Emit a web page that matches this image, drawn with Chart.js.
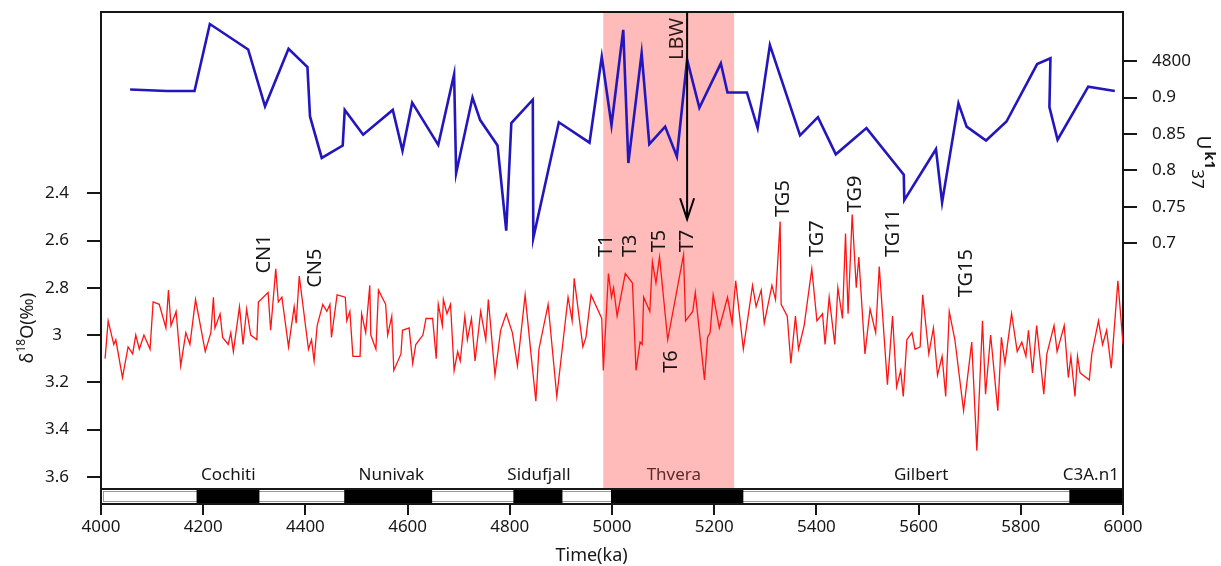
<!DOCTYPE html>
<html>
<head>
<meta charset="utf-8">
<script src="https://cdn.jsdelivr.net/npm/chart.js@4.4.1/dist/chart.umd.min.js"></script>
<style>
  html, body { margin: 0; padding: 0; background: #fff; }
  #wrap { width: 1221px; height: 566px; }
</style>
</head>
<body>
<div id="wrap"><canvas id="isoChart" width="1221" height="566"></canvas></div>
<script>
// ================= DATA =================
// U^k'37 record (right axis)
const BLUE_KA = [4057,4129,4183,4213,4288,4321,4367,4404,4409,4432,4473,4477,4513,4571,4590,4609,4660,4691,4695,4727,
  4742,4776,4793,4803,4845,4846,4896,4956,4980,4999,5022,5032,5058,5073,5104,5127,5147,5171,5213,5226,
  5264,5285,5309,5368,5403,5438,5498,5571,5572,5634,5646,5678,5694,5732,5772,5832,5858,5856,5872,5932,5984];
const BLUE_UK = [0.911,0.909,0.909,1.001,0.966,0.888,0.967,0.942,0.874,0.817,0.834,0.883,0.849,0.883,0.827,0.893,0.835,0.932,0.796,0.900,
  0.869,0.834,0.717,0.865,0.897,0.707,0.866,0.838,0.956,0.862,0.993,0.810,0.961,0.836,0.860,0.819,0.952,0.886,0.947,0.907,
  0.907,0.858,0.972,0.848,0.873,0.822,0.858,0.794,0.759,0.829,0.756,0.892,0.860,0.841,0.867,0.946,0.954,0.887,0.842,0.915,0.909];

// benthic d18O record (left axis, reversed)
const RED_KA = [
  4008,4014,4025,4029,4042,4053,4062,4068,4075,4084,
  4096,4102,4114,4127,4132,4137,4147,4156,4166,4174,
  4185,4204,4215,4220,4223,4233,4238,4249,4254,4259,
  4271,4278,4285,4293,4305,4308,4327,4332,4342,4347,
  4354,4367,4378,4382,4388,4406,4412,4417,4423,4434,
  4442,4448,4451,4462,4478,4481,4487,4493,4507,4510,
  4518,4526,4528,4538,4543,4557,4561,4569,4573,4587,
  4590,4603,4610,4616,4630,4636,4649,4656,4660,4668,
  4670,4677,4684,4691,4698,4703,4712,4717,4725,4732,
  4743,4753,4758,4771,4782,4793,4805,4815,4830,4841,
  4851,4857,4875,4892,4914,4922,4926,4943,4949,4959,
  4980,4983,4993,4999,5003,5010,5026,5040,5047,5055,
  5059,5062,5074,5079,5086,5093,5109,5140,5144,5158,
  5163,5181,5187,5192,5198,5210,5226,5235,5242,5257,
  5275,5282,5292,5298,5313,5320,5329,5331,5343,5350,
  5359,5365,5376,5391,5401,5412,5417,5425,5436,5442,
  5451,5457,5462,5470,5478,5483,5495,5505,5516,5523,
  5539,5549,5557,5565,5570,5577,5587,5593,5603,5608,
  5620,5629,5637,5646,5653,5660,5671,5688,5704,5714,
  5725,5731,5741,5755,5762,5769,5782,5793,5802,5810,
  5815,5823,5831,5845,5851,5865,5871,5885,5893,5898,
  5906,5911,5916,5934,5939,5952,5960,5968,5977,5990,
  6000];
const RED_D18O = [
  3.10,2.94,3.04,3.02,3.18,3.05,3.08,3.00,3.06,3.00,
  3.06,2.86,2.87,2.97,2.81,2.96,2.90,3.13,2.99,3.04,
  2.85,3.07,2.99,2.84,2.97,2.91,3.01,3.04,2.99,3.07,
  2.88,3.04,2.89,3.00,3.02,2.86,2.82,2.98,2.72,2.86,
  2.84,3.05,2.88,2.95,2.75,3.06,3.02,3.11,2.96,2.87,
  2.90,2.87,3.01,2.83,2.84,2.94,2.90,3.09,3.09,2.91,
  2.99,2.79,3.00,3.06,2.81,2.87,3.00,2.92,3.15,3.08,
  2.98,2.97,3.12,3.04,3.00,2.93,2.93,3.10,2.87,2.96,
  2.85,2.91,2.87,3.15,3.07,3.11,2.92,3.02,2.93,3.11,
  2.90,3.02,2.85,3.17,2.98,2.91,2.99,3.13,2.83,3.07,
  3.28,3.06,2.87,3.26,2.84,2.94,2.76,3.05,3.01,2.83,
  2.93,3.15,2.74,2.84,2.80,2.92,2.74,2.78,3.15,3.03,
  3.04,2.84,2.90,2.69,2.78,2.67,3.02,2.66,2.94,2.90,
  2.82,3.19,3.01,2.99,2.83,2.97,2.84,2.95,2.77,3.06,
  2.79,2.88,2.81,2.95,2.79,2.85,2.52,2.87,2.92,3.12,
  2.92,3.06,2.96,2.72,2.94,2.91,3.04,2.84,3.04,2.80,
  2.93,2.57,2.91,2.49,2.80,2.67,3.08,2.89,2.99,2.71,
  3.21,2.92,3.22,3.15,3.26,3.02,2.99,3.06,3.05,2.83,
  3.08,2.97,3.17,3.09,3.26,2.90,3.02,3.32,3.03,3.49,
  2.94,3.25,3.00,3.32,3.01,3.12,2.91,3.07,3.03,3.09,
  2.98,3.16,2.96,3.25,3.08,2.96,3.07,2.96,3.18,3.09,
  3.26,3.09,3.16,3.19,3.08,2.94,3.04,2.98,3.14,2.77,
  3.04];

// tick values
const X_TICK_STEP = 200;
const LEFT_TICKS = [2.4, 2.6, 2.8, 3.0, 3.2, 3.4, 3.6];
const RIGHT_TICKS = [0.7, 0.75, 0.8, 0.85, 0.9, 0.95];
const RIGHT_TICK_TEXT = ['0.7', '0.75', '0.8', '0.85', '0.9', '4800'];

// polarity chrons (normal = black)
const NORMAL_START = [4187, 4476, 4807, 4998, 5895];
const NORMAL_END = [4310, 4648, 4903, 5257, 6000];
const CHRON_NAMES = ['Cochiti', 'Nunivak', 'Sidufjall', 'Thvera', 'Gilbert', 'C3A.n1'];
const CHRON_KA = [4249, 4568, 4857, 5121, 5605, 5937];

// Thvera interval and LBW event
const THVERA_BAND = [4983, 5239];
const LBW_KA = 5147;
const LBW_TIP_D18O = 2.51;

// glacial stage labels: text, age, d18O at the foot of the text
const PEAK_LABELS = ['CN1', 'CN5', 'T1', 'T3', 'T5', 'T7', 'T6', 'TG5', 'TG7', 'TG9', 'TG11', 'TG15'];
const PEAK_KA = [4317, 4417, 4986, 5033, 5090, 5145, 5114, 5333, 5399, 5474, 5548, 5691];
const PEAK_D18O = [2.74, 2.80, 2.67, 2.67, 2.65, 2.65, 3.16, 2.50, 2.67, 2.48, 2.67, 2.84];

// ================= STYLE =================
const FONT = '"Noto Sans", "Open Sans", sans-serif';
const INK = '#161616';
const BAR_H = 15;

function rotatedText(ctx, text, x, y, angle, font, color) {
  ctx.save();
  ctx.translate(x, y);
  ctx.rotate(angle);
  ctx.font = font;
  ctx.fillStyle = color;
  ctx.textAlign = 'left';
  ctx.textBaseline = 'alphabetic';
  ctx.fillText(text, 0, 7);
  ctx.restore();
}

// scales keep a fixed box, no extra room for end labels
function fixBox(size, vertical) {
  return s => {
    if (vertical) s.width = size; else s.height = size;
    s.paddingTop = 0;
    s.paddingBottom = 0;
    s.paddingLeft = 0;
    s.paddingRight = 0;
  };
}

// ================= OVERLAYS =================
const overlayPlugin = {
  id: 'overlay',
  beforeDatasetsDraw(chart) {
    const { ctx, chartArea: a, scales: { x } } = chart;
    const x0 = x.getPixelForValue(THVERA_BAND[0]);
    const x1 = x.getPixelForValue(THVERA_BAND[1]);
    ctx.save();
    ctx.fillStyle = 'rgb(255,186,186)';
    ctx.fillRect(x0, a.top, x1 - x0, a.bottom - BAR_H - a.top);
    ctx.restore();
  },
  afterDraw(chart) {
    const { ctx, chartArea: a, scales: { x, yLeft } } = chart;
    ctx.save();

    // top frame
    ctx.strokeStyle = INK;
    ctx.lineWidth = 2;
    ctx.beginPath();
    ctx.moveTo(a.left - 1, a.top);
    ctx.lineTo(a.right + 1, a.top);
    ctx.stroke();

    // polarity bar
    const barTop = a.bottom - BAR_H;
    ctx.strokeStyle = '#9a9a9a';
    ctx.lineWidth = 1;
    ctx.strokeRect(a.left + 2.5, barTop + 2.5, a.right - a.left - 5, BAR_H - 5);
    ctx.fillStyle = '#000';
    NORMAL_START.forEach((s, i) => {
      const p0 = x.getPixelForValue(s);
      const p1 = x.getPixelForValue(NORMAL_END[i]);
      ctx.fillRect(p0, barTop, p1 - p0, BAR_H);
    });
    ctx.strokeStyle = INK;
    ctx.lineWidth = 2;
    ctx.strokeRect(a.left, barTop, a.right - a.left, BAR_H);

    // chron names
    ctx.font = '17px ' + FONT;
    ctx.textAlign = 'center';
    ctx.textBaseline = 'alphabetic';
    CHRON_NAMES.forEach((name, i) => {
      ctx.fillStyle = name === 'Thvera' ? '#5e2a2a' : INK;
      ctx.fillText(name, x.getPixelForValue(CHRON_KA[i]), barTop - 9);
    });

    // LBW arrow
    const lx = x.getPixelForValue(LBW_KA);
    const tip = yLeft.getPixelForValue(LBW_TIP_D18O);
    ctx.strokeStyle = '#000';
    ctx.lineWidth = 2;
    ctx.beginPath();
    ctx.moveTo(lx, a.top);
    ctx.lineTo(lx, tip);
    ctx.moveTo(lx - 7, tip - 21);
    ctx.lineTo(lx, tip);
    ctx.lineTo(lx + 7, tip - 21);
    ctx.stroke();
    rotatedText(ctx, 'LBW', lx - 11, a.top + 48, -Math.PI / 2, '20px ' + FONT, '#2a1a1a');

    // stage labels
    PEAK_LABELS.forEach((t, i) => {
      const px = x.getPixelForValue(PEAK_KA[i]);
      const py = yLeft.getPixelForValue(PEAK_D18O[i]);
      rotatedText(ctx, t, px, py, -Math.PI / 2, '20px ' + FONT, INK);
    });

    // left axis title: d18O(permil)
    ctx.save();
    ctx.translate(27, 328);
    ctx.rotate(-Math.PI / 2);
    ctx.fillStyle = INK;
    ctx.textBaseline = 'alphabetic';
    ctx.textAlign = 'left';
    const big = '18px ' + FONT, small = '12px ' + FONT;
    ctx.font = big; const wD = ctx.measureText('δ').width;
    ctx.font = small; const w18 = ctx.measureText('18').width;
    ctx.font = big; const wO = ctx.measureText('O(‰)').width;
    let cx = -(wD + w18 + wO) / 2;
    ctx.font = big; ctx.fillText('δ', cx, 6); cx += wD;
    ctx.font = small; ctx.fillText('18', cx, -2); cx += w18;
    ctx.font = big; ctx.fillText('O(‰)', cx, 6);
    ctx.restore();

    // right axis title: U k1 37
    ctx.save();
    ctx.translate(1203, 162);
    ctx.rotate(Math.PI / 2);
    ctx.fillStyle = INK;
    ctx.textBaseline = 'alphabetic';
    ctx.textAlign = 'left';
    const fU = '19px ' + FONT, fK = 'bold 15px ' + FONT, fS = '17px ' + FONT;
    ctx.font = fU; const wU = ctx.measureText('U').width;
    ctx.font = fK; const wK = ctx.measureText('k1').width;
    ctx.font = fS; const wS = ctx.measureText('37').width;
    let rx = -(wU + wK + wS + 2) / 2;
    ctx.font = fU; ctx.fillText('U', rx, 6); rx += wU + 2;
    ctx.font = fK; ctx.fillText('k1', rx, -2); rx += wK;
    ctx.font = fS; ctx.fillText('37', rx, 11);
    ctx.restore();

    // x axis title
    ctx.font = '18px ' + FONT;
    ctx.fillStyle = INK;
    ctx.textAlign = 'center';
    ctx.textBaseline = 'alphabetic';
    ctx.fillText('Time(ka)', x.getPixelForValue(4960), 561);

    ctx.restore();
  }
};

// ================= CHART =================
const tickFont = { family: FONT, size: 17 };
const axisGrid = { display: true, drawOnChartArea: false, drawTicks: true, color: INK, lineWidth: 2 };
const axisBorder = { display: true, color: INK, width: 2 };

new Chart(document.getElementById('isoChart'), {
  type: 'line',
  data: {
    datasets: [
      {
        label: 'd18O',
        data: RED_KA.map((t, i) => ({ x: t, y: RED_D18O[i] })),
        yAxisID: 'yLeft',
        borderColor: '#ff1414',
        borderWidth: 1.3,
        pointRadius: 0,
        tension: 0
      },
      {
        label: 'Uk37',
        data: BLUE_KA.map((t, i) => ({ x: t, y: BLUE_UK[i] })),
        yAxisID: 'yRight',
        borderColor: 'rgb(34,22,188)',
        borderWidth: 2.6,
        pointRadius: 0,
        tension: 0
      }
    ]
  },
  options: {
    responsive: false,
    animation: false,
    events: [],
    layout: { padding: { top: 12, left: 0, right: 0, bottom: 0 } },
    plugins: { legend: { display: false }, tooltip: { enabled: false } },
    scales: {
      x: {
        type: 'linear',
        position: 'bottom',
        min: 4000,
        max: 6000,
        ticks: {
          stepSize: X_TICK_STEP,
          autoSkip: false,
          maxRotation: 0,
          padding: 2,
          color: INK,
          font: tickFont,
          callback: v => String(v)
        },
        grid: { ...axisGrid, tickLength: 11 },
        border: axisBorder,
        afterFit: fixBox(62, false)
      },
      yLeft: {
        type: 'linear',
        position: 'left',
        reverse: true,
        min: 1.633,
        max: 3.715,
        afterBuildTicks: s => { s.ticks = LEFT_TICKS.map(v => ({ value: v })); },
        ticks: {
          crossAlign: 'center',
          padding: 18,
          color: INK,
          font: tickFont,
          callback: v => String(Math.round(v * 10) / 10)
        },
        grid: { ...axisGrid, tickLength: 14 },
        border: axisBorder,
        afterFit: fixBox(101, true)
      },
      yRight: {
        type: 'linear',
        position: 'right',
        min: 0.3416,
        max: 1.0175,
        afterBuildTicks: s => { s.ticks = RIGHT_TICKS.map(v => ({ value: v })); },
        ticks: {
          padding: 15,
          color: INK,
          font: tickFont,
          callback: v => {
            const i = RIGHT_TICKS.findIndex(t => Math.abs(t - v) < 1e-6);
            return i >= 0 ? RIGHT_TICK_TEXT[i] : '';
          }
        },
        grid: { ...axisGrid, tickLength: 14 },
        border: axisBorder,
        afterFit: fixBox(98, true)
      }
    }
  },
  plugins: [overlayPlugin]
});
</script>
</body>
</html>
